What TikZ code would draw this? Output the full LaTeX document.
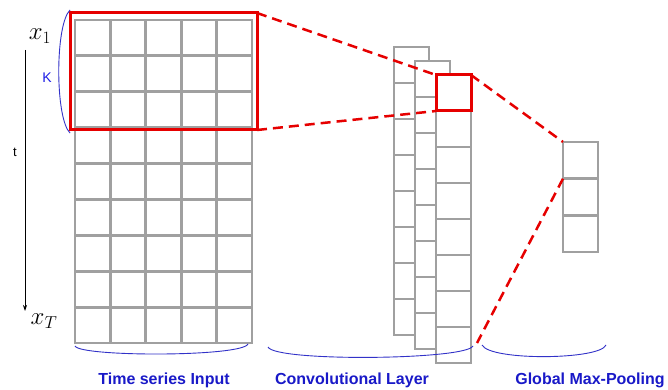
\documentclass[tikz,border=0pt]{standalone}
\usepackage{fontspec}
\setsansfont{Liberation Sans}
\usetikzlibrary{arrows.meta}
\definecolor{cellgray}{RGB}{160,160,160}
\definecolor{winred}{RGB}{230,0,0}
\definecolor{braceblue}{RGB}{50,50,200}
\definecolor{labelblue}{RGB}{25,25,200}
\definecolor{kblue}{RGB}{30,30,230}
\begin{document}
\begin{tikzpicture}[x=1pt,y=-1pt,
  gridline/.style={draw=cellgray,line width=2.8pt,line cap=rect},
  cell/.style={draw=cellgray,line width=2.8pt,fill=white,inner sep=0pt,outer sep=0pt},
  redwin/.style={draw=winred,line width=3pt,inner sep=0pt,outer sep=0pt},
  conn/.style={draw=winred,line width=2.5pt,dash pattern=on 10pt off 6pt},
  brace/.style={draw=braceblue,line width=0.9pt},
  captext/.style={font=\sffamily\bfseries\fontsize{16}{18}\selectfont,text=labelblue,anchor=base,inner sep=0pt}]
\useasboundingbox[fill=white] (0,0) rectangle (668,390);

% input grid
\draw[gridline] (75,20) rectangle (252,343);
\foreach \i in {1,...,4} \draw[gridline] ({75+35.4*\i},20) -- ({75+35.4*\i},343);
\foreach \j in {1,...,8} \draw[gridline] (75,{20+35.9*\j}) -- (252,{20+35.9*\j});

% convolutional columns
\foreach \c in {0,1,2} {
  \pgfmathsetmacro\xl{394+21*\c}
  \pgfmathsetmacro\yt{47+14*\c}
  \draw[cell] (\xl,\yt) rectangle ++(35,288);
  \foreach \k in {1,...,7} \draw[gridline] (\xl,{\yt+36*\k}) -- ++(35,0);
}

% pooling column
\node[cell,minimum width=35pt,minimum height=36.7pt] (p1) at (580.5,160.3) {};
\node[cell,minimum width=35pt,minimum height=36.7pt] (p2) at (580.5,197) {};
\node[cell,minimum width=35pt,minimum height=36.7pt] (p3) at (580.5,233.7) {};

% red windows
\node[redwin,minimum width=187pt,minimum height=117pt] (win) at (163.5,71.5) {};
\node[redwin,minimum width=35pt,minimum height=36pt] (cwin) at (453.5,93) {};
\coordinate (cend) at (477,343);

% dashed connectors
\draw[conn] (win.north east) -- (cwin.north west);
\draw[conn] (win.south east) -- (cwin.south west);
\draw[conn] (cwin.north east) -- (p1.north west);
\draw[conn] (p1.south west) -- (cend);

% braces
\draw[brace] (70,10) .. controls (55,25) and (55,118) .. (70,133);
\draw[brace] (75,346) .. controls (80,357) and (242,357) .. (248,344);
\draw[brace] (268,347) .. controls (275,362) and (466,360) .. (473,346);
\draw[brace] (482,345) .. controls (490,361) and (600,360) .. (606,345);

% time arrow
\coordinate (ts) at (25,50);
\coordinate (te) at (25,311);
\draw[-{Stealth[length=6pt,width=4pt]},line width=0.8pt] (ts) -- (te);

% labels
\node (x1) at (40,36) {\fontsize{24}{26}\selectfont$x_1$};
\node (xT) at (44,321) {\fontsize{24}{26}\selectfont$x_T$};
\node[text=kblue,font=\sffamily\fontsize{14}{16}\selectfont] (K) at (47,78) {K};
\node[font=\sffamily\fontsize{13}{15}\selectfont] (t) at (15,152) {t};
\node[captext] (lin) at (164,384.5) {Time series Input};
\node[captext] (lconv) at (352,384.5) {Convolutional Layer};
\node[captext] (lpool) at (590,384.5) {Global Max-Pooling};
\end{tikzpicture}
\end{document}
